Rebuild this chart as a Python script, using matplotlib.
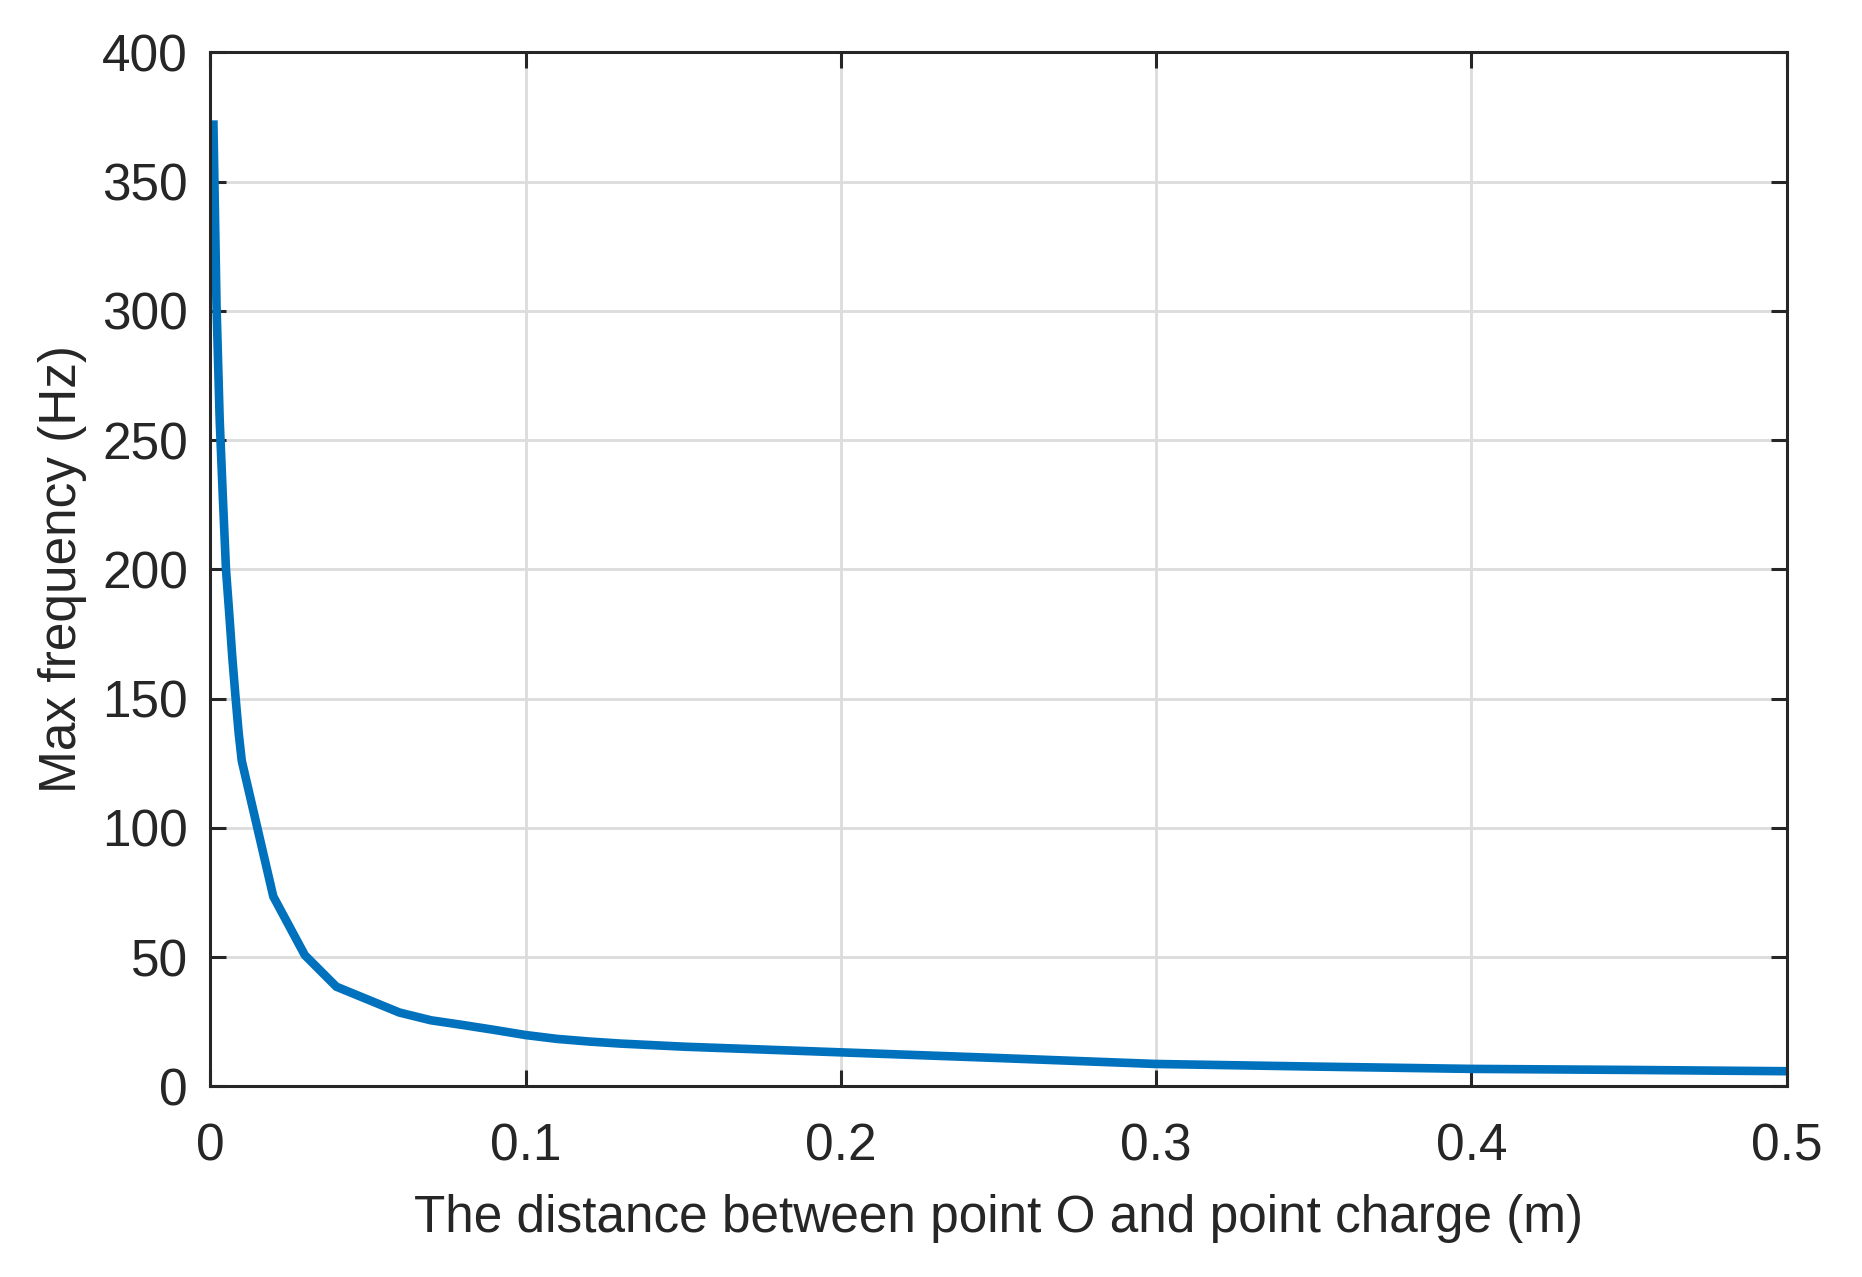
import matplotlib
matplotlib.use("Agg")
import matplotlib.pyplot as plt

plt.rcParams['font.family'] = ['Liberation Sans', 'DejaVu Sans']

# distance between point O and point charge (m)
distance = [0.001, 0.002, 0.003, 0.004, 0.005, 0.006, 0.007, 0.008, 0.009, 0.01,
            0.02, 0.03, 0.04, 0.05, 0.06, 0.07, 0.08, 0.09, 0.10,
            0.11, 0.12, 0.13, 0.15, 0.20, 0.25, 0.30, 0.35, 0.40, 0.45, 0.50]
# max frequency (Hz)
max_freq = [373.7, 302.0, 258.0, 228.0, 200.0, 183.5, 166.0, 151.0, 137.0, 126.0,
            73.5, 50.8, 38.6, 33.6, 28.6, 25.6, 23.8, 21.9, 19.9,
            18.4, 17.4, 16.6, 15.4, 13.2, 11.0, 8.7, 7.7, 6.8, 6.4, 5.9]

x_ticks = [0, 0.1, 0.2, 0.3, 0.4, 0.5]
x_tick_labels = ['0', '0.1', '0.2', '0.3', '0.4', '0.5']
y_ticks = [0, 50, 100, 150, 200, 250, 300, 350, 400]

text_color = '#262626'

fig = plt.figure(figsize=(9.31, 6.385), dpi=200)
ax = fig.add_axes([0.1129, 0.1492, 0.9596 - 0.1129, 0.959 - 0.1492])

ax.plot(distance, max_freq, color='#0072BD', linewidth=3.1, solid_joinstyle='miter',
        solid_capstyle='butt', zorder=3)

ax.set_xlim(0, 0.5)
ax.set_ylim(0, 400)
ax.set_xticks(x_ticks)
ax.set_xticklabels(x_tick_labels)
ax.set_yticks(y_ticks)

ax.grid(True, color='#dcdcdc', linewidth=1.0)
ax.set_axisbelow(True)

for s in ax.spines.values():
    s.set_linewidth(1.1)
    s.set_color(text_color)
    s.set_zorder(4)

ax.tick_params(direction='in', length=5.8, width=1.1, colors=text_color,
               labelsize=18.5, top=True, right=True)
ax.tick_params(axis='x', pad=13)
ax.tick_params(axis='y', pad=8)

ax.set_xlabel('The distance between point O and point charge (m)', fontsize=18.5,
              color=text_color, labelpad=8)
ax.set_ylabel('Max frequency (Hz)', fontsize=18.5, color=text_color, labelpad=5.5)

fig.savefig('out.png', dpi=200, facecolor='white')
